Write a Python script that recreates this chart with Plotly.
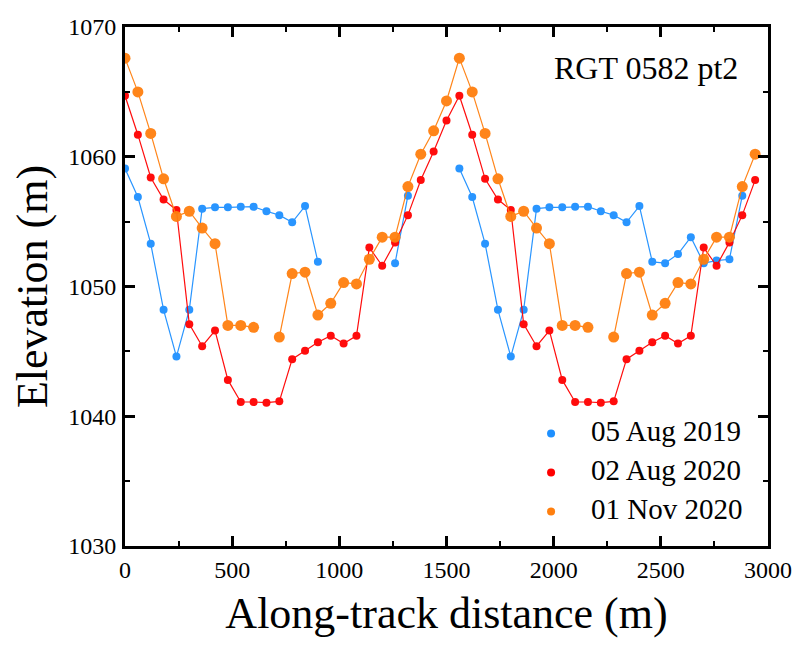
import plotly.graph_objects as go

distance = [0, 60, 120, 180, 240, 300, 360, 420, 480, 540, 600, 660, 720, 780, 840, 900,
            960, 1020, 1080, 1140, 1200, 1260, 1320, 1380, 1440, 1500, 1560, 1620, 1680,
            1740, 1800, 1860, 1920, 1980, 2040, 2100, 2160, 2220, 2280, 2340, 2400, 2460,
            2520, 2580, 2640, 2700, 2760, 2820, 2880, 2940]

elev_2019 = [1059.1, 1056.9, 1053.3, 1048.2, 1044.6, 1048.2, 1056.0, 1056.1, 1056.1, 1056.15,
             1056.15, 1055.8, 1055.5, 1054.95, 1056.2, 1051.9, None, None, None, None, None,
             1051.8, 1057.0, None, None, None, 1059.1, 1056.9, 1053.3, 1048.2, 1044.6, 1048.2,
             1056.0, 1056.1, 1056.1, 1056.15, 1056.15, 1055.8, 1055.5, 1054.95, 1056.2, 1051.9,
             1051.8, 1052.5, 1053.8, 1051.8, 1052.0, 1052.1, 1057.0, None]

elev_aug2020 = [1064.7, 1061.7, 1058.4, 1056.7, 1055.9, 1047.1, 1045.4, 1046.6, 1042.8, 1041.1,
                1041.1, 1041.05, 1041.15, 1044.4, 1045.05, 1045.7, 1046.2, 1045.6, 1046.2, 1053.0,
                1051.6, 1053.4, 1055.5, 1058.2, 1060.4, 1062.8, 1064.7, 1061.7, 1058.3, 1056.7,
                1055.9, 1047.1, 1045.4, 1046.6, 1042.8, 1041.1, 1041.1, 1041.05, 1041.15, 1044.4,
                1045.05, 1045.7, 1046.2, 1045.6, 1046.2, 1053.0, 1051.6, 1053.4, 1055.5, 1058.2]

elev_nov2020 = [1067.6, 1065.0, 1061.8, 1058.3, 1055.4, 1055.8, 1054.5, 1053.3, 1047.0, 1047.0,
                1046.85, None, 1046.1, 1051.0, 1051.1, 1047.8, 1048.7, 1050.3, 1050.2, 1052.1,
                1053.8, 1053.8, 1057.7, 1060.2, 1062.0, 1064.3, 1067.6, 1065.0, 1061.8, 1058.3,
                1055.4, 1055.8, 1054.5, 1053.3, 1047.0, 1047.0, 1046.85, None, 1046.1, 1051.0,
                1051.1, 1047.8, 1048.7, 1050.3, 1050.2, 1052.1, 1053.8, 1053.8, 1057.7, 1060.2]

series_names = ["05 Aug 2019", "02 Aug 2020", "01 Nov 2020"]
series_colors = ["#1E90FF", "#FF0000", "#FF7F0E"]
series_sizes = [8, 8, 11]
series_data = [elev_2019, elev_aug2020, elev_nov2020]

FONT = "Liberation Serif, Times New Roman, serif"

fig = go.Figure()
for name, color, size, ys in zip(series_names, series_colors, series_sizes, series_data):
    fig.add_trace(go.Scatter(
        x=distance, y=ys, mode="lines+markers", name=name,
        line=dict(color=color, width=1.2), marker=dict(color=color, size=size),
        connectgaps=False, showlegend=False, opacity=0.95,
    ))
for i, (name, color) in enumerate(zip(series_names, series_colors)):
    fig.add_trace(go.Scatter(
        x=[None], y=[None], mode="markers",
        name=f'<span style="font-size:29px">{name}</span>',
        legendgroup=f"g{i}",
        marker=dict(color=color, size=8), showlegend=True,
    ))

axis_common = dict(
    showline=True, linecolor="black", linewidth=3, mirror="ticks",
    ticks="inside", ticklen=10, tickwidth=3, tickcolor="black",
    showgrid=False, zeroline=False, automargin=False,
    tickfont=dict(family=FONT, size=24, color="black"),
)

fig.update_xaxes(
    range=[0, 3000], dtick=500, tick0=0,
    minor=dict(dtick=250, ticks="inside", ticklen=5, tickwidth=2, tickcolor="black"),
    title=dict(text="Along-track distance (m)", font=dict(family=FONT, size=44, color="black"), standoff=28),
    **axis_common,
)
fig.update_yaxes(
    range=[1030, 1070], dtick=10, tick0=1030,
    minor=dict(dtick=5, ticks="inside", ticklen=5, tickwidth=2, tickcolor="black"),
    title=dict(text="Elevation (m)", font=dict(family=FONT, size=44, color="black"), standoff=8),
    ticklabelstandoff=1,
    **axis_common,
)

fig.add_annotation(
    text="RGT 0582 pt2", xref="paper", yref="paper", x=0.956, y=0.921,
    xanchor="right", yanchor="middle", showarrow=False,
    font=dict(family=FONT, size=32, color="black"),
)

fig.update_layout(
    width=785, height=630,
    margin=dict(l=117, r=25, t=19, b=92),
    paper_bgcolor="white", plot_bgcolor="white",
    legend=dict(
        x=0.969, xanchor="right", y=0.029, yanchor="bottom",
        font=dict(family=FONT, size=20, color="black"),
        bgcolor="rgba(0,0,0,0)", itemwidth=70,
    ),
)

fig.write_html("out.html")
